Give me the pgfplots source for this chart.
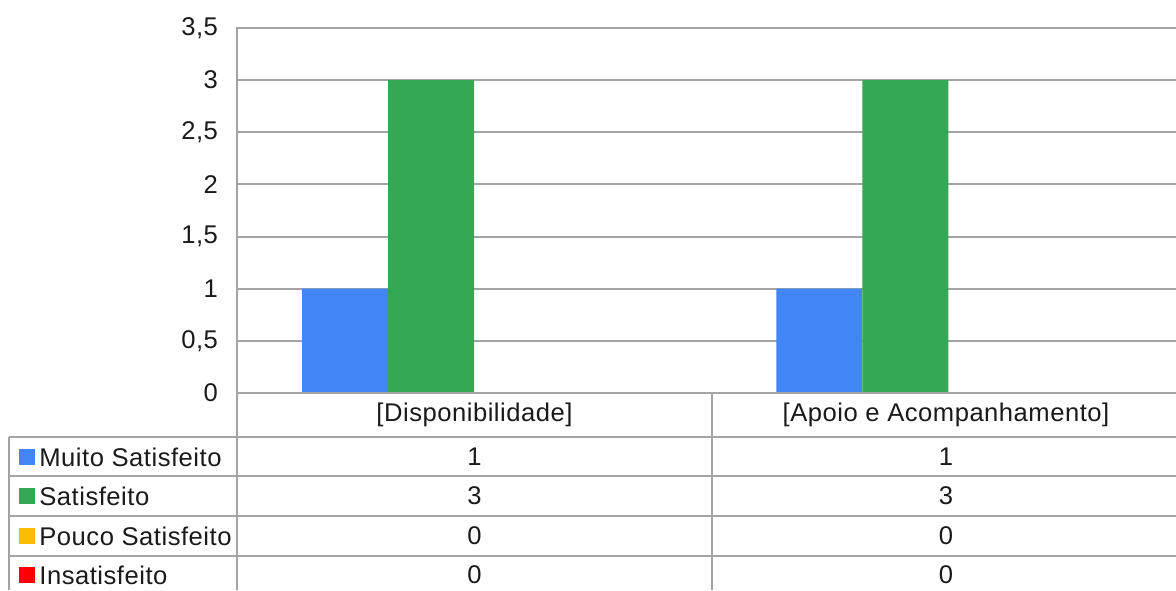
\documentclass[border=0pt]{standalone}
\usepackage{fontspec}
\setmainfont{Liberation Sans}[LetterSpace=2.0]
\usepackage{pgfplots}
\pgfplotsset{compat=1.18}
\definecolor{cblue}{HTML}{4285F4}
\definecolor{cgreen}{HTML}{34A853}
\definecolor{cyellow}{HTML}{FBBC04}
\definecolor{cred}{HTML}{FF0000}
\definecolor{gridgray}{HTML}{A4A4A4}
\definecolor{txt}{HTML}{1A1A1A}
\newcommand{\tf}{\fontsize{12.8}{14}\selectfont}
\begin{document}
\begin{tikzpicture}[x=0.5pt,y=0.5pt]
\path[use as bounding box, fill=white] (0,0) rectangle (1176,590);
\begin{axis}[
  at={(118.5pt,98.5pt)}, anchor=south west,
  scale only axis, width=469.5pt, height=182.5pt,
  xmin=-0.5, xmax=1.48, ymin=0, ymax=3.5,
  ytick={0,0.5,1,1.5,2,2.5,3,3.5},
  xtick=\empty,
  ymajorgrids,
  grid style={color=gridgray, line width=1pt},
  axis line style={draw=none},
  major tick length=0pt,
  yticklabel style={font=\tf, text=txt, xshift=-6pt},
  /pgf/number format/use comma,
  /pgf/number format/assume math mode=true,
  clip=false,
]
\addplot[ybar, bar width=0.1813, bar shift=-0.272, fill=cblue, draw=none] coordinates {(0,1) (1,1)};
\addplot[ybar, bar width=0.1813, bar shift=-0.0907, fill=cgreen, draw=none] coordinates {(0,3) (1,3)};
\addplot[ybar, bar width=0.1813, bar shift=0.0907, fill=cyellow, draw=none] coordinates {(0,0) (1,0)};
\addplot[ybar, bar width=0.1813, bar shift=0.272, fill=cred, draw=none] coordinates {(0,0) (1,0)};
\end{axis}
% table lines
\begin{scope}[draw=gridgray, line width=1pt]
\draw (237,563) -- (237,0);
\draw (712,197) -- (712,0);
\draw (9,153) -- (9,0);
\draw (237,197) -- (1176,197);
\draw (9,153) -- (1176,153);
\draw (9,114) -- (1176,114);
\draw (9,74) -- (1176,74);
\draw (9,34) -- (1176,34);
\end{scope}
\begin{scope}[every node/.style={font=\tf, text=txt, inner sep=0pt}]
\node at (474.5,175) {[Disponibilidade]};
\node at (946,175) {[Apoio e Acompanhamento]};
\fill[cblue] (19,125) rectangle (35,141);
\fill[cgreen] (19,86) rectangle (35,102);
\fill[cyellow] (19,46) rectangle (35,62);
\fill[cred] (19,7) rectangle (35,23);
\node[anchor=west] at (39,133) {Muito Satisfeito};
\node[anchor=west] at (39,94) {Satisfeito};
\node[anchor=west] at (39,54) {Pouco Satisfeito};
\node[anchor=west] at (39,15) {Insatisfeito};
\node at (474.5,133) {1};
\node at (946,133) {1};
\node at (474.5,94) {3};
\node at (946,94) {3};
\node at (474.5,54) {0};
\node at (946,54) {0};
\node at (474.5,15) {0};
\node at (946,15) {0};
\end{scope}
\end{tikzpicture}
\end{document}
